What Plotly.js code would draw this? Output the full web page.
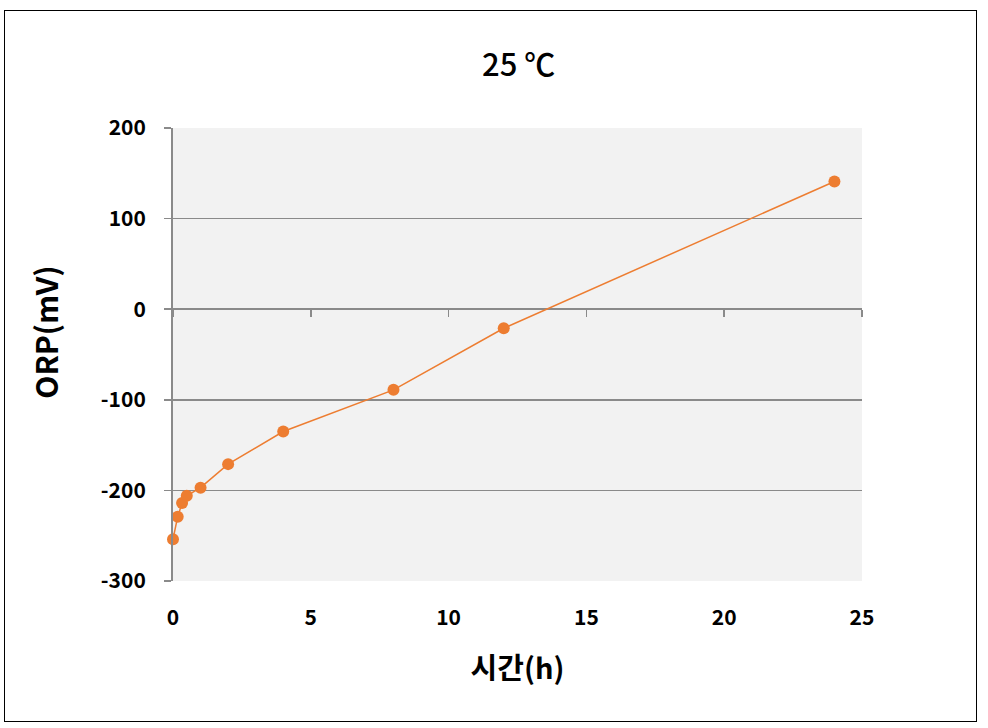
<!DOCTYPE html>
<html>
<head>
<meta charset="utf-8">
<script src="https://cdn.plot.ly/plotly-3.0.1.min.js"></script>
<style>
html,body{margin:0;padding:0;background:#fff;}
#wrap{position:relative;width:988px;height:728px;}
#chart{position:absolute;left:0;top:0;width:988px;height:728px;}
#frame{position:absolute;left:4px;top:10px;width:973px;height:712px;border:1.5px solid #000;pointer-events:none;box-sizing:border-box;}
</style>
</head>
<body>
<div id="wrap"><div id="chart"></div><div id="frame"></div></div>
<script>
const timeHours = [0, 0.17, 0.33, 0.5, 1, 2, 4, 8, 12, 24];
const orpMv = [-254, -229, -214, -206, -197, -171, -135, -89, -21, 141];
const yTickVals = [-300, -200, -100, 0, 100, 200];
const yTickText = ['-300', '-200', '-100', '0', '100', '200'];
const titleText = '25 ℃';
const xTitle = '시간(h)';
const yTitle = 'ORP(mV)';

const fontFam = '"Noto Sans CJK KR", "Noto Sans", sans-serif';
const gridCol = '#8a8a8a';

const trace = {
  x: timeHours, y: orpMv, type: 'scatter', mode: 'lines+markers',
  line: {color: '#ED7D31', width: 1.5},
  marker: {color: '#ED7D31', size: 12},
  xaxis: 'x', yaxis: 'y', showlegend: false, cliponaxis: false
};

const layout = {
  width: 988, height: 728,
  margin: {l: 173, r: 126, t: 128, b: 147},
  paper_bgcolor: '#ffffff', plot_bgcolor: '#f2f2f2',
  title: {text: titleText, x: 0.525, xanchor: 'center', y: 0.91, yanchor: 'middle',
          font: {family: fontFam, size: 31, color: '#000', weight: 500}},
  xaxis: {
    range: [0, 25], dtick: 5, tick0: 0, showgrid: false, zeroline: false,
    showline: false, ticks: '', ticklabelstandoff: 22,
    tickfont: {family: fontFam, size: 21, color: '#000', weight: 'bold'},
    title: {text: xTitle, standoff: 28, font: {family: fontFam, size: 29, color: '#000', weight: 'bold'}}
  },
  xaxis2: {
    range: [0, 25], dtick: 5, tick0: 0, overlaying: 'x', anchor: 'free', position: 0.6,
    side: 'bottom', showgrid: false, zeroline: false, showline: false,
    ticks: 'outside', ticklen: 7, tickcolor: gridCol, tickwidth: 1.5, showticklabels: false
  },
  yaxis: {
    range: [-300, 200], tickmode: 'array', tickvals: yTickVals, ticktext: yTickText,
    showgrid: true, gridcolor: gridCol, gridwidth: 1.5,
    zeroline: false, showline: true, linecolor: gridCol, linewidth: 2,
    ticks: 'outside', ticklen: 7, tickcolor: gridCol, tickwidth: 1.5, ticklabelstandoff: 14,
    tickfont: {family: fontFam, size: 21, color: '#000', weight: 'bold'}
  },
  annotations: [{
    text: yTitle, xref: 'paper', yref: 'paper', x: -0.186, y: 0.55,
    xanchor: 'center', yanchor: 'middle', textangle: -90, showarrow: false,
    font: {family: fontFam, size: 30, color: '#000', weight: 'bold'}
  }]
};

Plotly.newPlot('chart', [trace, {x: [], y: [], xaxis: 'x2', yaxis: 'y', showlegend: false}], layout, {displayModeBar: false, staticPlot: true});
</script>
</body>
</html>
